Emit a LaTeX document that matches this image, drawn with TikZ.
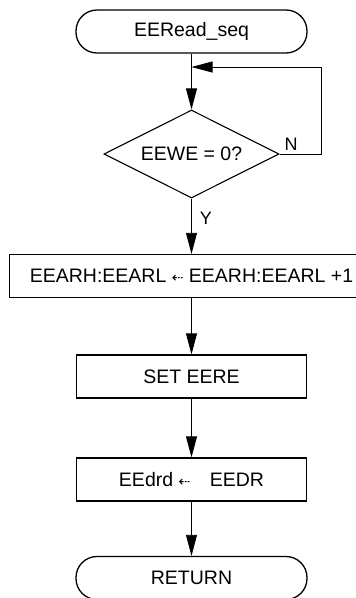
\documentclass[tikz,border=0pt]{standalone}
\usepackage{fontspec}
\setmainfont{Liberation Sans}
\newfontfamily\symfont{DejaVu Sans}
\usetikzlibrary{shapes.geometric,arrows.meta}
\newcommand{\larr}{{\symfont\fontsize{14}{14}\selectfont ⇠}}
\begin{document}
\begin{tikzpicture}[x=1pt,y=-1pt,
  every node/.style={font=\fontsize{19.5}{21}\selectfont},
  term/.style={draw,line width=1.3pt,rounded corners=21pt,minimum width=231pt,minimum height=43pt,inner sep=0pt},
  procbox/.style={draw,line width=1.3pt,minimum width=230pt,minimum height=43pt,inner sep=0pt},
  decision/.style={draw,line width=1.1pt,diamond,aspect=2,minimum width=175pt,minimum height=88pt,inner sep=0pt},
  conn/.style={line width=0.8pt,-{Triangle[length=21pt,width=11pt]}},
  lbl/.style={inner sep=0pt,font=\fontsize{18}{19}\selectfont}]
\useasboundingbox (0,0) rectangle (356,598);
\clip (0,0) rectangle (356,598);
\node[term] (start) at (191.5,31.5) {EERead\_seq};
\node[decision] (dec) at (191.5,154) {EEWE = 0?};
\node[procbox,minimum width=364pt] (inc) at (191.5,276) {EEARH:EEARL \larr\ EEARH:EEARL +1};
\node[procbox] (set) at (191.5,376.5) {SET EERE};
\node[procbox] (rd) at (191.5,479.5) {EEdrd \larr\quad EEDR};
\node[term] (ret) at (191.5,578) {RETURN};
\coordinate (c1) at (321,154);
\coordinate (c2) at (321,67);
\coordinate (c3) at (191.5,67);
\draw[conn] (start) -- (dec);
\draw[conn] (dec.east) -- (c1) -- (c2) -- (c3);
\draw[conn] (dec) -- (inc);
\draw[conn] (inc) -- (set);
\draw[conn] (set) -- (rd);
\draw[conn] (rd) -- (ret);
\node[lbl] (nl) at (291,144) {N};
\node[lbl] (yl) at (206,218) {Y};
\end{tikzpicture}
\end{document}
